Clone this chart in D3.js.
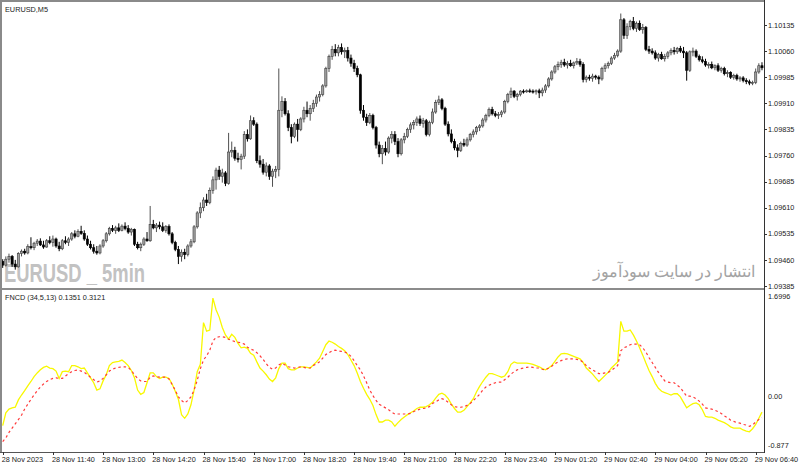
<!DOCTYPE html>
<html>
<head>
<meta charset="utf-8">
<script src="https://cdn.jsdelivr.net/npm/d3@7"></script>
<style>
  body { margin: 0; background: #fff; }
  svg { display: block; }
  text { font-family: "Liberation Sans", Arial, sans-serif; }
</style>
</head>
<body>
<svg id="chart" width="800" height="468"></svg>
<script>
// data ////////////////////////////////////////////////////////////////
const symbolLabel = "EURUSD,M5";
const indicatorLabel = "FNCD (34,5,13) 0.1351 0.3121";
const watermarkLeft = "EURUSD _ 5min";
const watermarkRight = "انتشار در سایت سودآموز";

// EURUSD M5 candles, one entry per bar (243 bars)
const opens = [
  1.09455,1.09445,1.09462,1.09470,1.09448,1.09440,1.09478,1.09485,1.09480,1.09498,1.09495,1.09508,1.09514,1.09503,1.09497,1.09515,
  1.09510,1.09520,1.09500,1.09492,1.09515,1.09510,1.09520,1.09535,1.09528,1.09542,1.09536,1.09520,1.09505,1.09495,1.09485,1.09480,
  1.09500,1.09515,1.09535,1.09550,1.09545,1.09552,1.09545,1.09557,1.09550,1.09540,1.09548,1.09505,1.09495,1.09505,1.09520,1.09515,
  1.09562,1.09552,1.09560,1.09555,1.09545,1.09556,1.09535,1.09510,1.09490,1.09470,1.09482,1.09475,1.09500,1.09512,1.09555,1.09595,
  1.09610,1.09632,1.09625,1.09660,1.09690,1.09718,1.09700,1.09710,1.09680,1.09770,1.09775,1.09752,1.09748,1.09758,1.09820,1.09808,
  1.09860,1.09850,1.09745,1.09735,1.09712,1.09730,1.09700,1.09715,1.09720,1.09890,1.09915,1.09880,1.09840,1.09815,1.09850,1.09835,
  1.09865,1.09890,1.09880,1.09895,1.09910,1.09928,1.09935,1.09960,1.10010,1.10045,1.10065,1.10055,1.10070,1.10058,1.10062,1.10040,
  1.10025,1.10010,1.09992,1.09890,1.09870,1.09855,1.09875,1.09840,1.09790,1.09765,1.09780,1.09770,1.09810,1.09820,1.09800,1.09765,
  1.09805,1.09815,1.09835,1.09848,1.09855,1.09865,1.09852,1.09860,1.09820,1.09855,1.09885,1.09912,1.09920,1.09895,1.09850,1.09822,
  1.09800,1.09782,1.09775,1.09795,1.09790,1.09805,1.09820,1.09828,1.09840,1.09845,1.09862,1.09875,1.09892,1.09880,1.09875,1.09878,
  1.09885,1.09915,1.09935,1.09945,1.09930,1.09935,1.09945,1.09944,1.09946,1.09945,1.09943,1.09946,1.09940,1.09948,1.09960,1.09980,
  1.10000,1.10015,1.10022,1.10028,1.10020,1.10025,1.10018,1.10026,1.10030,1.10022,1.09978,1.09985,1.09982,1.09988,1.09985,1.09980,
  1.10010,1.10018,1.10025,1.10040,1.10048,1.10060,1.10150,1.10105,1.10130,1.10145,1.10125,1.10140,1.10122,1.10128,1.10065,1.10060,
  1.10055,1.10040,1.10050,1.10038,1.10045,1.10055,1.10062,1.10058,1.10068,1.10060,1.10055,1.10005,1.10058,1.10060,1.10045,1.10035,
  1.10030,1.10020,1.10022,1.10012,1.10018,1.10005,1.10010,1.09995,1.09998,1.09985,1.09990,1.09980,1.09983,1.09975,1.09972,1.09968,
  1.09970,1.10000,1.10018
];
const highs = [
  1.09462,1.09470,1.09478,1.09474,1.09460,1.09482,1.09490,1.09492,1.09505,1.09525,1.09512,1.09520,1.09522,1.09515,1.09520,1.09528,
  1.09530,1.09524,1.09512,1.09520,1.09528,1.09525,1.09540,1.09545,1.09548,1.09558,1.09545,1.09530,1.09515,1.09505,1.09500,1.09505,
  1.09520,1.09540,1.09555,1.09560,1.09558,1.09565,1.09562,1.09568,1.09560,1.09552,1.09550,1.09512,1.09510,1.09525,1.09540,1.09615,
  1.09575,1.09566,1.09570,1.09568,1.09560,1.09562,1.09540,1.09515,1.09500,1.09490,1.09492,1.09505,1.09520,1.09560,1.09600,1.09625,
  1.09640,1.09650,1.09668,1.09700,1.09725,1.09730,1.09722,1.09715,1.09825,1.09800,1.09785,1.09768,1.09765,1.09830,1.09835,1.09875,
  1.09870,1.09855,1.09760,1.09750,1.09740,1.09735,1.09722,1.09730,1.10010,1.09930,1.09925,1.09890,1.09850,1.09855,1.09865,1.09870,
  1.09900,1.09915,1.09905,1.09920,1.09935,1.09945,1.09965,1.10015,1.10050,1.10075,1.10080,1.10078,1.10082,1.10070,1.10072,1.10050,
  1.10035,1.10018,1.09995,1.09905,1.09880,1.09882,1.09880,1.09845,1.09800,1.09790,1.09800,1.09815,1.09830,1.09830,1.09810,1.09810,
  1.09825,1.09840,1.09855,1.09862,1.09872,1.09875,1.09868,1.09865,1.09860,1.09895,1.09920,1.09932,1.09925,1.09900,1.09858,1.09835,
  1.09808,1.09792,1.09800,1.09808,1.09812,1.09825,1.09835,1.09845,1.09850,1.09868,1.09880,1.09898,1.09900,1.09888,1.09885,1.09890,
  1.09920,1.09940,1.09955,1.09948,1.09940,1.09948,1.09950,1.09950,1.09952,1.09950,1.09950,1.09952,1.09955,1.09965,1.09985,1.10005,
  1.10020,1.10030,1.10035,1.10038,1.10032,1.10035,1.10030,1.10040,1.10038,1.10028,1.09990,1.09992,1.09995,1.09992,1.09990,1.10015,
  1.10025,1.10030,1.10045,1.10055,1.10065,1.10168,1.10155,1.10140,1.10150,1.10158,1.10145,1.10148,1.10138,1.10132,1.10075,1.10068,
  1.10062,1.10055,1.10058,1.10052,1.10060,1.10068,1.10072,1.10072,1.10075,1.10072,1.10060,1.10062,1.10070,1.10065,1.10050,1.10045,
  1.10038,1.10028,1.10030,1.10022,1.10025,1.10015,1.10015,1.10005,1.10002,1.09995,1.09995,1.09988,1.09988,1.09982,1.09978,1.09975,
  1.10010,1.10025,1.10028
];
const lows = [
  1.09437,1.09441,1.09452,1.09440,1.09432,1.09438,1.09470,1.09475,1.09476,1.09490,1.09488,1.09500,1.09500,1.09492,1.09495,1.09505,
  1.09498,1.09495,1.09485,1.09488,1.09505,1.09500,1.09515,1.09522,1.09525,1.09532,1.09515,1.09500,1.09490,1.09478,1.09475,1.09476,
  1.09495,1.09510,1.09530,1.09540,1.09535,1.09540,1.09542,1.09545,1.09535,1.09530,1.09500,1.09490,1.09485,1.09500,1.09512,1.09512,
  1.09548,1.09540,1.09548,1.09540,1.09538,1.09530,1.09505,1.09485,1.09448,1.09455,1.09462,1.09470,1.09495,1.09508,1.09550,1.09580,
  1.09600,1.09615,1.09620,1.09650,1.09662,1.09690,1.09682,1.09672,1.09676,1.09755,1.09745,1.09740,1.09720,1.09750,1.09800,1.09805,
  1.09845,1.09738,1.09725,1.09705,1.09700,1.09690,1.09670,1.09695,1.09700,1.09870,1.09875,1.09830,1.09795,1.09810,1.09800,1.09830,
  1.09855,1.09870,1.09860,1.09885,1.09900,1.09915,1.09930,1.09955,1.10000,1.10035,1.10045,1.10045,1.10050,1.10040,1.10030,1.10015,
  1.10000,1.09985,1.09880,1.09860,1.09845,1.09850,1.09835,1.09780,1.09755,1.09735,1.09760,1.09765,1.09795,1.09790,1.09755,1.09760,
  1.09795,1.09810,1.09825,1.09835,1.09845,1.09845,1.09840,1.09815,1.09815,1.09850,1.09880,1.09905,1.09890,1.09845,1.09815,1.09795,
  1.09775,1.09755,1.09770,1.09785,1.09785,1.09800,1.09812,1.09820,1.09830,1.09840,1.09855,1.09870,1.09875,1.09870,1.09865,1.09870,
  1.09880,1.09910,1.09925,1.09925,1.09918,1.09930,1.09938,1.09940,1.09940,1.09938,1.09935,1.09925,1.09930,1.09940,1.09955,1.09975,
  1.09995,1.10005,1.10012,1.10015,1.10010,1.10015,1.10010,1.10020,1.10015,1.09970,1.09970,1.09975,1.09972,1.09978,1.09965,1.09975,
  1.10000,1.10010,1.10020,1.10035,1.10042,1.10055,1.10095,1.10095,1.10120,1.10120,1.10115,1.10118,1.10110,1.10060,1.10052,1.10050,
  1.10035,1.10030,1.10035,1.10030,1.10038,1.10048,1.10050,1.10052,1.10055,1.10040,1.09975,1.10000,1.10045,1.10040,1.10030,1.10025,
  1.10015,1.10010,1.10008,1.10005,1.10000,1.09998,1.09990,1.09985,1.09980,1.09978,1.09975,1.09972,1.09970,1.09965,1.09962,1.09962,
  1.09965,1.09995,1.10005
];
const closes = [
  1.09445,1.09462,1.09470,1.09448,1.09440,1.09478,1.09485,1.09480,1.09498,1.09495,1.09508,1.09514,1.09503,1.09497,1.09515,1.09510,
  1.09520,1.09500,1.09492,1.09515,1.09510,1.09520,1.09535,1.09528,1.09542,1.09536,1.09520,1.09505,1.09495,1.09485,1.09480,1.09500,
  1.09515,1.09535,1.09550,1.09545,1.09552,1.09545,1.09557,1.09550,1.09540,1.09548,1.09505,1.09495,1.09505,1.09520,1.09515,1.09562,
  1.09552,1.09560,1.09555,1.09545,1.09556,1.09535,1.09510,1.09490,1.09470,1.09482,1.09475,1.09500,1.09512,1.09555,1.09595,1.09610,
  1.09632,1.09625,1.09660,1.09690,1.09718,1.09700,1.09710,1.09680,1.09770,1.09775,1.09752,1.09748,1.09758,1.09820,1.09808,1.09860,
  1.09850,1.09745,1.09735,1.09712,1.09730,1.09700,1.09715,1.09720,1.09890,1.09915,1.09880,1.09840,1.09815,1.09850,1.09835,1.09865,
  1.09890,1.09880,1.09895,1.09910,1.09928,1.09935,1.09960,1.10010,1.10045,1.10065,1.10055,1.10070,1.10058,1.10062,1.10040,1.10025,
  1.10010,1.09992,1.09890,1.09870,1.09855,1.09875,1.09840,1.09790,1.09765,1.09780,1.09770,1.09810,1.09820,1.09800,1.09765,1.09805,
  1.09815,1.09835,1.09848,1.09855,1.09865,1.09852,1.09860,1.09820,1.09855,1.09885,1.09912,1.09920,1.09895,1.09850,1.09822,1.09800,
  1.09782,1.09775,1.09795,1.09790,1.09805,1.09820,1.09828,1.09840,1.09845,1.09862,1.09875,1.09892,1.09880,1.09875,1.09878,1.09885,
  1.09915,1.09935,1.09945,1.09930,1.09935,1.09945,1.09944,1.09946,1.09945,1.09943,1.09946,1.09940,1.09948,1.09960,1.09980,1.10000,
  1.10015,1.10022,1.10028,1.10020,1.10025,1.10018,1.10026,1.10030,1.10022,1.09978,1.09985,1.09982,1.09988,1.09985,1.09980,1.10010,
  1.10018,1.10025,1.10040,1.10048,1.10060,1.10150,1.10105,1.10130,1.10145,1.10125,1.10140,1.10122,1.10128,1.10065,1.10060,1.10055,
  1.10040,1.10050,1.10038,1.10045,1.10055,1.10062,1.10058,1.10068,1.10060,1.10055,1.10005,1.10058,1.10060,1.10045,1.10035,1.10030,
  1.10020,1.10022,1.10012,1.10018,1.10005,1.10010,1.09995,1.09998,1.09985,1.09990,1.09980,1.09983,1.09975,1.09972,1.09968,1.09970,
  1.10000,1.10018,1.10012
];

// FNCD indicator: main line (yellow) and signal line (red dashed)
const fncdMain = [
  -0.48,-0.27,-0.21,-0.19,-0.18,-0.06,0.02,0.09,0.17,0.24,0.32,0.38,0.43,0.47,0.49,0.46,
  0.45,0.41,0.29,0.40,0.41,0.40,0.50,0.50,0.48,0.45,0.46,0.38,0.30,0.22,0.10,0.12,
  0.25,0.35,0.50,0.55,0.56,0.57,0.59,0.55,0.50,0.42,0.30,0.10,0.03,0.06,0.22,0.38,
  0.38,0.32,0.29,0.31,0.31,0.29,0.20,0.08,-0.05,-0.30,-0.36,-0.29,-0.14,0.10,0.40,0.52,
  1.20,1.06,1.08,1.60,1.41,1.29,1.12,1.00,0.93,1.01,0.96,0.86,0.79,0.80,0.78,0.70,
  0.67,0.56,0.46,0.41,0.35,0.28,0.24,0.30,0.45,0.54,0.54,0.45,0.43,0.43,0.46,0.48,
  0.48,0.47,0.46,0.51,0.56,0.62,0.73,0.84,0.90,0.88,0.85,0.81,0.78,0.74,0.68,0.59,
  0.50,0.38,0.24,0.13,0.03,-0.05,-0.15,-0.30,-0.42,-0.42,-0.39,-0.39,-0.42,-0.49,-0.43,-0.38,
  -0.34,-0.30,-0.27,-0.24,-0.20,-0.18,-0.18,-0.17,-0.14,-0.10,-0.03,0.03,0.05,0.02,-0.04,-0.13,
  -0.20,-0.26,-0.26,-0.23,-0.17,-0.11,-0.04,0.07,0.16,0.24,0.31,0.37,0.37,0.35,0.33,0.31,
  0.33,0.40,0.52,0.56,0.54,0.54,0.54,0.54,0.53,0.52,0.50,0.48,0.45,0.43,0.46,0.50,
  0.57,0.64,0.69,0.70,0.69,0.67,0.65,0.63,0.61,0.55,0.46,0.41,0.36,0.30,0.24,0.29,
  0.34,0.39,0.46,0.51,0.56,1.22,1.06,1.06,1.08,1.00,0.90,0.79,0.67,0.54,0.42,0.32,
  0.21,0.13,0.08,0.06,0.04,0.02,0.04,0.04,-0.01,-0.10,-0.19,-0.15,-0.12,-0.11,-0.14,-0.22,
  -0.33,-0.34,-0.34,-0.36,-0.39,-0.41,-0.43,-0.46,-0.50,-0.52,-0.52,-0.52,-0.55,-0.57,-0.58,-0.53,
  -0.46,-0.36,-0.26
];
const fncdSignal = [
  -0.74,-0.68,-0.59,-0.52,-0.45,-0.38,-0.31,-0.21,-0.13,-0.05,0.02,0.09,0.15,0.20,0.24,0.27,
  0.29,0.30,0.29,0.29,0.33,0.37,0.40,0.42,0.43,0.41,0.39,0.35,0.31,0.27,0.23,0.25,
  0.29,0.35,0.41,0.44,0.46,0.47,0.48,0.48,0.47,0.42,0.35,0.29,0.25,0.24,0.24,0.31,
  0.33,0.32,0.31,0.31,0.31,0.28,0.19,0.10,-0.01,-0.07,-0.11,-0.07,-0.01,0.10,0.26,0.45,
  0.59,0.66,0.75,0.90,0.96,0.97,0.97,0.96,0.93,0.91,0.89,0.88,0.87,0.85,0.80,0.77,
  0.75,0.71,0.66,0.60,0.53,0.47,0.44,0.46,0.51,0.54,0.51,0.48,0.47,0.46,0.47,0.48,
  0.47,0.46,0.46,0.50,0.53,0.56,0.62,0.68,0.71,0.74,0.75,0.74,0.73,0.72,0.70,0.65,
  0.58,0.50,0.43,0.33,0.22,0.10,0.01,-0.07,-0.13,-0.16,-0.19,-0.22,-0.26,-0.29,-0.29,-0.29,
  -0.29,-0.29,-0.28,-0.25,-0.23,-0.21,-0.20,-0.19,-0.17,-0.12,-0.09,-0.06,-0.04,-0.06,-0.10,-0.14,
  -0.17,-0.18,-0.18,-0.17,-0.15,-0.12,-0.07,-0.02,0.03,0.10,0.15,0.18,0.20,0.22,0.23,0.23,
  0.27,0.31,0.36,0.40,0.43,0.45,0.46,0.47,0.48,0.47,0.46,0.46,0.44,0.43,0.46,0.49,
  0.53,0.56,0.58,0.60,0.61,0.61,0.61,0.60,0.59,0.55,0.50,0.46,0.43,0.40,0.37,0.37,
  0.38,0.39,0.42,0.46,0.50,0.74,0.79,0.81,0.84,0.85,0.85,0.84,0.79,0.72,0.63,0.55,
  0.47,0.39,0.32,0.25,0.23,0.22,0.22,0.18,0.14,0.07,0.00,0.00,-0.01,-0.04,-0.08,-0.13,
  -0.19,-0.20,-0.21,-0.23,-0.25,-0.28,-0.32,-0.35,-0.39,-0.41,-0.43,-0.44,-0.46,-0.47,-0.49,-0.47,
  -0.42,-0.38,-0.35
];

// axes
const priceTicks = [1.10135, 1.10060, 1.09985, 1.09910, 1.09835, 1.09760, 1.09685, 1.09610, 1.09535, 1.09460, 1.09385];
const indTicks = [1.6996, 0, -0.877];
const indTickLabels = ["1.6996", "0.00", "-0.877"];
const timeTickBars = [0, 16, 32, 48, 64, 80, 96, 112, 128, 144, 160, 176, 192, 208, 224, 240];
const timeTickLabels = [
  "28 Nov 2023", "28 Nov 11:40", "28 Nov 13:00", "28 Nov 14:20", "28 Nov 15:40", "28 Nov 17:00",
  "28 Nov 18:20", "28 Nov 19:40", "28 Nov 21:00", "28 Nov 22:20", "28 Nov 23:40", "29 Nov 01:20",
  "29 Nov 02:40", "29 Nov 04:00", "29 Nov 05:20", "29 Nov 06:40"
];

// layout /////////////////////////////////////////////////////////////
const axisX = 764;       // right price scale line
const mainBottom = 288;
const indTop = 291;
const indBottom = 452;

const svg = d3.select("#chart");

const x = d3.scaleLinear().domain([0, 240]).range([2.7, 755.7]);
const yPrice = d3.scaleLinear().domain([1.09385, 1.10135]).range([286, 25]);
const yInd = d3.scaleLinear().domain([-0.877, 1.6996]).range([450, 292]);

const bars = closes.map((c, i) => ({ i, o: opens[i], h: highs[i], l: lows[i], c }));

// clip paths
const defs = svg.append("defs");
defs.append("clipPath").attr("id", "clipMain")
  .append("rect").attr("x", 2).attr("y", 2).attr("width", axisX - 2).attr("height", mainBottom - 2);
defs.append("clipPath").attr("id", "clipInd")
  .append("rect").attr("x", 2).attr("y", indTop).attr("width", axisX - 2).attr("height", indBottom - indTop);

// watermarks (behind the candles)
svg.append("text")
  .attr("x", 4).attr("y", 282)
  .attr("font-family", "'Liberation Sans Narrow', 'Liberation Sans', sans-serif")
  .attr("font-weight", "bold")
  .attr("font-size", 25)
  .attr("textLength", 141)
  .attr("lengthAdjust", "spacingAndGlyphs")
  .attr("fill", "#c2c2c2")
  .text(watermarkLeft);

svg.append("text")
  .attr("x", 674).attr("y", 277)
  .attr("text-anchor", "middle")
  .attr("font-family", "'DejaVu Sans', sans-serif")
  .attr("font-size", 15.5)
  .attr("fill", "#a3a3a3")
  .text(watermarkRight);

// candles
const main = svg.append("g").attr("clip-path", "url(#clipMain)");
const bodyW = 2.2;

main.selectAll("line.wick")
  .data(bars)
  .join("line")
  .attr("class", "wick")
  .attr("x1", d => x(d.i)).attr("x2", d => x(d.i))
  .attr("y1", d => yPrice(d.h)).attr("y2", d => yPrice(d.l))
  .attr("stroke", d => d.c >= d.o ? "#505050" : "#000")
  .attr("stroke-width", 1);

main.selectAll("rect.body")
  .data(bars)
  .join("rect")
  .attr("class", "body")
  .attr("x", d => x(d.i) - bodyW / 2)
  .attr("width", bodyW)
  .attr("y", d => yPrice(Math.max(d.o, d.c)))
  .attr("height", d => Math.max(1, Math.abs(yPrice(d.o) - yPrice(d.c))))
  .attr("fill", d => d.c >= d.o ? "#a0a0a0" : "#000")
  .attr("stroke", d => d.c >= d.o ? "#3c3c3c" : "#000")
  .attr("stroke-width", 0.6);

// indicator lines
const ind = svg.append("g").attr("clip-path", "url(#clipInd)");
const lineGen = d3.line().x((d, i) => x(i)).y(d => yInd(d));

ind.append("path")
  .datum(fncdMain)
  .attr("d", lineGen)
  .attr("fill", "none")
  .attr("stroke", "#f8f800")
  .attr("stroke-width", 1.3);

ind.append("path")
  .datum(fncdSignal)
  .attr("d", lineGen)
  .attr("fill", "none")
  .attr("stroke", "#ff3a3a")
  .attr("stroke-width", 1.2)
  .attr("stroke-dasharray", "2.5,2.8");

// frame
svg.append("rect").attr("x", 0).attr("y", 0).attr("width", 2).attr("height", indBottom + 1).attr("fill", "#8a8a8a");
svg.append("rect").attr("x", 0).attr("y", 0).attr("width", axisX).attr("height", 2).attr("fill", "#8a8a8a");
svg.append("rect").attr("x", 0).attr("y", mainBottom).attr("width", axisX).attr("height", 2).attr("fill", "#8c8c8c");
svg.append("line").attr("x1", 0).attr("x2", axisX).attr("y1", indBottom + 0.5).attr("y2", indBottom + 0.5)
  .attr("stroke", "#555");
svg.append("line").attr("x1", axisX + 0.5).attr("x2", axisX + 0.5).attr("y1", 0).attr("y2", indBottom + 1)
  .attr("stroke", "#333");

// labels in panels
svg.append("text").attr("x", 5).attr("y", 12).attr("font-size", 7.3).attr("fill", "#222").text(symbolLabel);
svg.append("text").attr("x", 5).attr("y", 300).attr("font-size", 7.3).attr("fill", "#222").text(indicatorLabel);

// price axis
const pAxis = svg.append("g");
pAxis.selectAll("line")
  .data(priceTicks)
  .join("line")
  .attr("x1", axisX).attr("x2", axisX + 3)
  .attr("y1", d => Math.round(yPrice(d)) + 0.5).attr("y2", d => Math.round(yPrice(d)) + 0.5)
  .attr("stroke", "#333");
pAxis.selectAll("text")
  .data(priceTicks)
  .join("text")
  .attr("x", axisX + 4)
  .attr("y", d => yPrice(d) + 2.6)
  .attr("font-size", 7.3)
  .attr("fill", "#222")
  .text(d => d3.format(".5f")(d));

// indicator axis
const iAxis = svg.append("g");
const indLabelOffset = [6.5, 3, -2];
iAxis.selectAll("text")
  .data(indTicks)
  .join("text")
  .attr("x", axisX + 4)
  .attr("y", (d, i) => yInd(d) + indLabelOffset[i])
  .attr("font-size", 7.3)
  .attr("fill", "#222")
  .text((d, i) => indTickLabels[i]);

// time axis
const tAxis = svg.append("g");
tAxis.selectAll("line")
  .data(timeTickBars)
  .join("line")
  .attr("x1", d => Math.round(x(d)) + 0.5).attr("x2", d => Math.round(x(d)) + 0.5)
  .attr("y1", indBottom).attr("y2", indBottom + 3)
  .attr("stroke", "#333");
tAxis.selectAll("text")
  .data(timeTickBars)
  .join("text")
  .attr("x", d => x(d) - 1)
  .attr("y", 462)
  .attr("font-size", 7.3)
  .attr("fill", "#222")
  .text((d, i) => timeTickLabels[i]);
</script>
</body>
</html>
